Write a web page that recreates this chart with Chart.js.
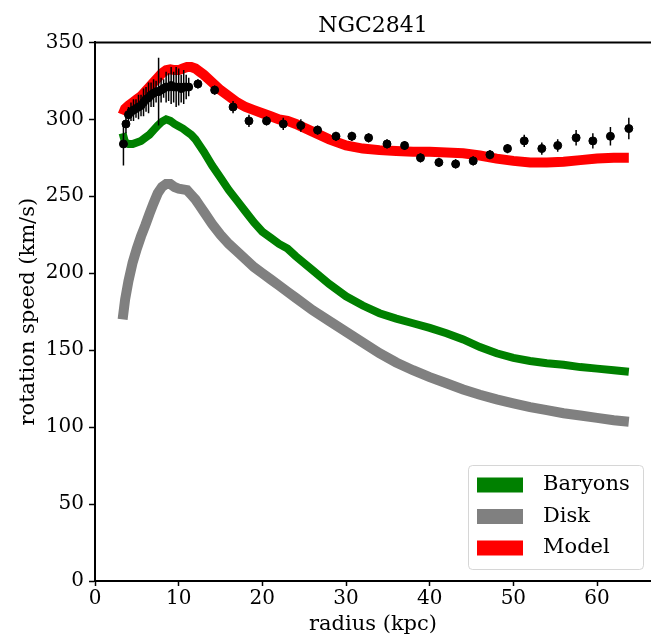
<!DOCTYPE html>
<html>
<head>
<meta charset="utf-8">
<script src="https://cdn.jsdelivr.net/npm/chart.js@4.4.1/dist/chart.umd.min.js"></script>
<style>
  html, body { margin: 0; padding: 0; background: #fff; overflow: hidden; }
  canvas { display: block; }
</style>
</head>
<body>
<canvas id="myChart" width="651" height="637"></canvas>
<script>
// radius grid (kpc) for the model curves
const radius = [3.3, 3.6, 4, 4.5, 5, 5.5, 6, 6.5, 7, 7.5, 8, 8.5, 9, 9.5, 10, 10.5, 11, 11.5, 12, 12.5,
  13, 14, 15, 16, 17, 18, 19, 20, 21, 22, 23, 24, 26, 28, 30, 32, 34, 36, 38, 40,
  42, 44, 46, 48, 50, 52, 54, 56, 58, 60, 62, 63.8];

const baryons = [291, 285, 284, 284, 285, 286, 288, 290, 293, 296, 298.5, 300, 299, 297, 295.5, 294, 292, 290, 287, 283,
  279, 270, 262, 254, 247, 240, 233, 227, 223, 219, 216, 211, 202, 193, 185, 179, 174, 170.5, 167.5, 164.5,
  161, 157, 152, 148, 145, 143, 141.5, 140.5, 139, 138, 137, 136];

const disk = [170, 183, 195, 207, 216, 224, 231, 238.5, 245.5, 252, 256, 258, 258, 256, 255, 254.5, 254, 251, 248, 244,
  240, 232, 225, 219, 214, 209, 204, 200, 196, 192, 188, 184, 176, 169, 162, 155, 148, 142, 137, 132.5,
  128.5, 124.5, 121, 118, 115.5, 113, 111, 109, 107.5, 106, 104.5, 103.5];

const model = [303, 307, 309, 311, 313, 315, 318, 321, 324, 327, 330, 332, 332.5, 332, 332, 333, 334, 334, 333, 331,
  329, 324, 319, 315, 311, 308, 306, 304, 302, 300, 299, 297, 292, 287, 283, 281, 280, 279.5, 279, 279,
  278.5, 278, 276.5, 274.5, 273, 272, 272, 272.5, 273.5, 274.5, 275, 275];

// observed rotation curve
const obsR = [3.4, 3.7, 4.0, 4.3, 4.6, 4.9, 5.2, 5.5, 5.8, 6.1, 6.4, 6.7, 7.0, 7.3, 7.6, 7.9, 8.2, 8.5, 8.8, 9.1,
  9.4, 9.7, 10.0, 10.3, 10.6, 10.9, 11.2, 12.3, 14.3, 16.5, 18.4, 20.5, 22.5, 24.6, 26.6, 28.8, 30.7, 32.7, 34.9, 37.0,
  38.9, 41.1, 43.1, 45.2, 47.2, 49.3, 51.3, 53.4, 55.3, 57.5, 59.5, 61.6, 63.8];
const obsV = [284, 297, 303, 305, 306, 307, 308, 309, 311, 313, 314, 316, 317, 318, 318, 319, 320, 321, 321, 322,
  321, 321, 321, 320, 321, 321, 321, 323, 319, 308, 299, 299, 297, 296, 293, 289, 289, 288, 284, 283,
  275, 272, 271, 273, 277, 281, 286, 281, 283, 288, 286, 289, 294];
const obsErr = [14, 6, 5, 6, 7, 6, 8, 7, 9, 8, 10, 8, 9, 7, 22, 8, 6, 10, 9, 12,
  10, 13, 12, 9, 11, 8, 6, 3, 3, 4, 4, 3, 4, 4, 3, 3, 3, 3, 3, 3,
  3, 3, 3, 3, 3, 3, 4, 4, 4, 5, 5, 6, 7];

const xTicks = [0, 10, 20, 30, 40, 50, 60];
const yTicks = [0, 50, 100, 150, 200, 250, 300, 350];

const FONT = "'DejaVu Serif', 'Liberation Serif', serif";

const curve = (ys) => radius.map((r, i) => ({ x: r, y: ys[i] }));

// error bars as line segments, split by null y values
const errSegments = [];
obsR.forEach((r, i) => {
  errSegments.push({ x: r, y: obsV[i] - obsErr[i] });
  errSegments.push({ x: r, y: obsV[i] + obsErr[i] });
  errSegments.push({ x: r, y: null });
});

// top spine and matplotlib style legend inside the axes
const framePlugin = {
  id: 'frame',
  afterDraw(chart) {
    const { ctx, chartArea } = chart;
    ctx.save();
    ctx.strokeStyle = '#000';
    ctx.lineWidth = 2;
    ctx.beginPath();
    ctx.moveTo(chartArea.left - 1, chartArea.top);
    ctx.lineTo(chartArea.right, chartArea.top);
    ctx.stroke();

    const items = chart.data.datasets.filter(d => d.inLegend);
    const w = 175, h = 104;
    const bx = chartArea.right - 8 - w;
    const by = chartArea.bottom - 12 - h;
    ctx.fillStyle = 'rgba(255,255,255,0.8)';
    ctx.strokeStyle = 'rgba(204,204,204,0.8)';
    ctx.lineWidth = 1;
    ctx.beginPath();
    ctx.roundRect(bx + 0.5, by + 0.5, w, h, 4);
    ctx.fill();
    ctx.stroke();
    ctx.font = '21px ' + FONT;
    ctx.textBaseline = 'middle';
    ctx.textAlign = 'left';
    items.forEach((d, i) => {
      const cy = by + 20 + i * 31.5;
      ctx.fillStyle = d.borderColor;
      ctx.fillRect(bx + 9, cy - 7.5, 46, 15);
      ctx.fillStyle = '#000';
      ctx.fillText(d.label, bx + 75, cy);
    });
    ctx.restore();
  }
};

const ctx = document.getElementById('myChart').getContext('2d');
new Chart(ctx, {
  type: 'scatter',
  data: {
    datasets: [{
      label: 'Baryons',
      inLegend: true,
      data: curve(baryons),
      showLine: true,
      borderColor: '#008000',
      borderWidth: 8,
      pointRadius: 0,
      order: 4
    }, {
      label: 'Disk',
      inLegend: true,
      data: curve(disk),
      showLine: true,
      borderColor: '#808080',
      borderWidth: 10,
      pointRadius: 0,
      order: 3
    }, {
      label: 'Model',
      inLegend: true,
      data: curve(model),
      showLine: true,
      borderColor: '#ff0000',
      borderWidth: 10,
      pointRadius: 0,
      order: 2
    }, {
      label: 'errors',
      data: errSegments,
      showLine: true,
      spanGaps: false,
      borderColor: '#000',
      borderWidth: 1.5,
      pointRadius: 0,
      order: 1
    }, {
      label: 'data',
      data: obsR.map((r, i) => ({ x: r, y: obsV[i] })),
      backgroundColor: '#000',
      borderColor: '#000',
      pointRadius: 4,
      order: 0
    }]
  },
  options: {
    responsive: false,
    animation: false,
    layout: { padding: 0, autoPadding: false },
    plugins: {
      legend: { display: false },
      tooltip: { enabled: false },
      title: {
        display: true,
        text: 'NGC2841',
        fullSize: false,
        color: '#000',
        font: { family: FONT, size: 22, weight: 'normal' },
        padding: { top: 13, bottom: 3 }
      }
    },
    scales: {
      x: {
        type: 'linear',
        min: 0,
        max: 66.45,
        afterFit: (s) => { s.height = 56; s.paddingLeft = 0; s.paddingRight = 0; },
        afterBuildTicks: (s) => { s.ticks = xTicks.map(v => ({ value: v })); },
        ticks: { color: '#000', font: { family: FONT, size: 20 }, padding: 1, maxRotation: 0 },
        grid: { drawOnChartArea: false, tickLength: 5, color: '#000', tickWidth: 1.5 },
        border: { color: '#000', width: 2 },
        title: {
          display: true,
          text: 'radius (kpc)',
          color: '#000',
          font: { family: FONT, size: 21 },
          padding: { top: 0, bottom: 0 }
        }
      },
      y: {
        type: 'linear',
        min: 0,
        max: 350,
        afterFit: (s) => { s.width = 95; },
        afterBuildTicks: (s) => { s.ticks = yTicks.map(v => ({ value: v })); },
        ticks: { color: '#000', font: { family: FONT, size: 20 }, padding: 5 },
        grid: { drawOnChartArea: false, tickLength: 6, color: '#000', tickWidth: 1.5 },
        border: { color: '#000', width: 2 },
        title: {
          display: true,
          text: 'rotation speed (km/s)',
          color: '#000',
          font: { family: FONT, size: 21 },
          padding: { top: 16, bottom: 0 }
        }
      }
    }
  },
  plugins: [framePlugin]
});
</script>
</body>
</html>
